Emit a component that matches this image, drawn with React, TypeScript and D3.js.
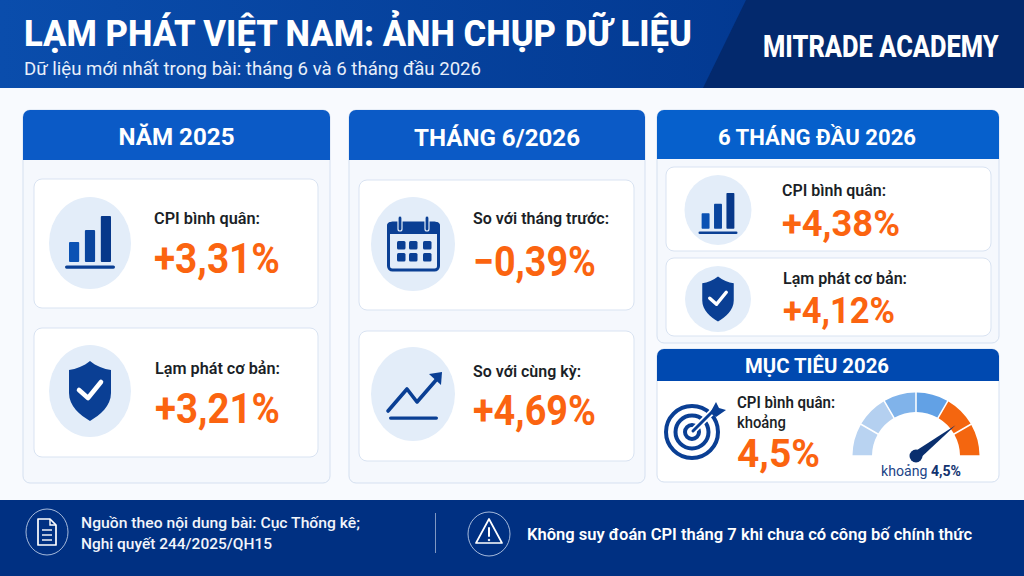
import * as d3 from "d3";

// values
const year2025Labels = ["CPI bình quân:", "Lạm phát cơ bản:"];
const year2025Values = [3.31, 3.21];
const june2026Labels = ["So với tháng trước:", "So với cùng kỳ:"];
const june2026Values = [-0.39, 4.69];
const half2026Labels = ["CPI bình quân:", "Lạm phát cơ bản:"];
const half2026Values = [4.38, 4.12];
const targetValue = 4.5;
const gaugeColors = ["#b9d3f1", "#b4d0f0", "#80b3ea", "#62a1e5", "#f4660f", "#f4660f"];
const gaugeShares = [1, 1, 1, 1, 1, 1];
const gaugePointer = 0.79; // share of the half circle, estimated from the needle
const iconBars = [1, 2, 3];
const iconBarHeights = [20, 32, 46];

const BLUE = "#0a3f94";
const DARK = "#003082";
const ORANGE = "#fb6410";
const INK = "#1b1f27";
const CIRCLE = "#e3edf9";
const FONT = "Roboto, sans-serif";

const vn = d3.formatLocale({ decimal: ",", thousands: ".", grouping: [3], currency: ["", ""], minus: "−" });
const signed = vn.format("+.2f");
const pct = (v: number) => `${signed(v)}%`;

function T({ x, y, size, w, weight = 400, fill = INK, anchor = "start", children }: any) {
  return (
    <text x={x} y={y} fontFamily={FONT} fontSize={size} fontWeight={weight} fill={fill} textAnchor={anchor}
      textLength={w} lengthAdjust={w ? "spacingAndGlyphs" : undefined}>
      {children}
    </text>
  );
}

function BarsIcon({ cx, cy, s }: any) {
  const x = d3.scaleBand<number>().domain(iconBars).range([-21, 21]).paddingInner(0.36);
  const y = d3.scaleLinear().domain([0, 46]).range([19, -27]);
  return (
    <g transform={`translate(${cx},${cy}) scale(${s})`}>
      {iconBars.map((b, i) => (
        <rect key={b} x={x(b)} width={x.bandwidth()} y={y(iconBarHeights[i])} height={y(0) - y(iconBarHeights[i])} rx={1} fill={i == 0 ? "#0b52b4" : i == 1 ? "#0a459e" : "#07388a"} />
      ))}
      <rect x={-25} y={22.5} width={50} height={3.2} rx={1.6} fill={BLUE} />
    </g>
  );
}

function ShieldIcon({ cx, cy, s }: any) {
  return (
    <g transform={`translate(${cx},${cy}) scale(${s})`}>
      <path d="M0,-30 C6,-25 14,-22 21,-21 L21,2 C21,15 10,24 0,30 C-10,24 -21,15 -21,2 L-21,-21 C-14,-22 -6,-25 0,-30Z" fill={BLUE} />
      <path d="M-11,-1 L-2,7 L11,-9" fill="none" stroke="#fff" strokeWidth={4.6} strokeLinecap="round" strokeLinejoin="round" />
    </g>
  );
}

function CalendarIcon({ cx, cy }: any) {
  const cols = [-12, 0, 14];
  const rows = [1, 13];
  return (
    <g transform={`translate(${cx},${cy})`}>
      <rect x={-24.5} y={-21} width={50} height={47} rx={4} fill={CIRCLE} stroke={BLUE} strokeWidth={3} />
      <path d="M-26,-10 V-18 a4,4 0 0 1 4,-4 H23 a4,4 0 0 1 4,4 V-10 Z" fill={BLUE} />
      {[-13, 14].map((d) => (
        <rect key={d} x={d - 2} y={-28} width={4} height={15} rx={2} fill={BLUE} stroke={CIRCLE} strokeWidth={1.2} />
      ))}
      {rows.flatMap((r) => cols.map((c) => <rect key={`${r}${c}`} x={c - 4} y={r - 4} width={8.5} height={8.5} rx={1.5} fill={BLUE} />))}
    </g>
  );
}

function TrendIcon({ cx, cy }: any) {
  return (
    <g transform={`translate(${cx},${cy})`}>
      <path d="M-25,17 L-6,-5 L4,8 L24,-15" fill="none" stroke={BLUE} strokeWidth={3.6} strokeLinecap="round" strokeLinejoin="round" />
      <path d="M16,-20 L29,-22 L28,-9 Z" fill={BLUE} />
      <rect x={-24} y={22.5} width={49} height={3.2} rx={1.6} fill={BLUE} />
    </g>
  );
}

function TargetIcon({ cx, cy }: any) {
  return (
    <g transform={`translate(${cx},${cy})`}>
      {[26, 16.5, 7].map((r) => (
        <circle key={r} r={r} fill="none" stroke={BLUE} strokeWidth={4} />
      ))}
      <path d="M1,-1 L24,-24" stroke="#fff" strokeWidth={6.5} />
      <path d="M1,-1 L24,-24" stroke={BLUE} strokeWidth={3} strokeLinecap="round" />
      <path d="M18,-19 L24,-30 L27,-24 L34,-22 L24,-15 Z" fill={BLUE} />
    </g>
  );
}

function DocIcon({ cx, cy }: any) {
  return (
    <g transform={`translate(${cx},${cy})`} fill="none" stroke="#fff">
      <ellipse rx={21} ry={23} strokeWidth={0.9} stroke="#b8c8e4" />
      <path d="M-9,-13 H3 L9,-7 V13 H-9 Z" strokeWidth={1.7} strokeLinejoin="round" />
      <path d="M3,-13 V-7 H9" strokeWidth={1.4} />
      {[-2, 3, 8].map((y) => <path key={y} d={`M-5,${y} H5`} strokeWidth={1.4} />)}
    </g>
  );
}

function WarnIcon({ cx, cy }: any) {
  return (
    <g transform={`translate(${cx},${cy})`} fill="none" stroke="#fff">
      <ellipse rx={21} ry={22} strokeWidth={0.9} stroke="#b8c8e4" />
      <path d="M0,-15 L13,9 H-13 Z" strokeWidth={1.7} strokeLinejoin="round" />
      <path d="M0,-6 V2" strokeWidth={2} strokeLinecap="round" />
      <circle cy={6} r={0.8} fill="#fff" strokeWidth={1} />
    </g>
  );
}

function Panel({ x, y, w, h, head, title, size, tw, fill, ty, bg = "#f5f8fd" }: any) {
  const r = 7;
  return (
    <g>
      <rect x={x} y={y} width={w} height={h} rx={r} fill={bg} stroke="#d5e0f0" />
      <path d={`M${x},${y + head} V${y + r} a${r},${r} 0 0 1 ${r},${-r} H${x + w - r} a${r},${r} 0 0 1 ${r},${r} V${y + head} Z`} fill={fill} />
      <T x={x + w / 2 + (w > 320 ? -11 : 0)} y={ty} size={size} w={tw} weight={700} fill="#fff" anchor="middle">{title}</T>
    </g>
  );
}

function Card({ x, y, w, h }: any) {
  return <rect x={x} y={y} width={w} height={h} rx={8} fill="#fff" stroke="#d9e3f2" />;
}

function Gauge({ cx, cy }: any) {
  const pie = d3.pie<number>().value((d) => d).sort(null).padAngle(0.02).startAngle(-Math.PI / 2).endAngle(Math.PI / 2);
  const arc = d3.arc<d3.PieArcDatum<number>>().innerRadius(44).outerRadius(63.5);
  const a = d3.scaleLinear().domain([0, 1]).range([-Math.PI / 2, Math.PI / 2])(gaugePointer);
  const len = 50;
  const tx = Math.sin(a) * len;
  const ty = -Math.cos(a) * len;
  const nx = Math.cos(a) * 4.5;
  const ny = Math.sin(a) * 4.5;
  return (
    <g transform={`translate(${cx},${cy})`}>
      {pie(gaugeShares).map((d, i) => <path key={i} d={arc(d) ?? ""} fill={gaugeColors[i]} />)}
      <path d={`M${-nx},${-ny} L${tx},${ty} L${nx},${ny} Z`} fill="#0a2f6e" />
      <circle r={6.5} fill="#0a2f6e" />
    </g>
  );
}

export default function App() {
  return (
    <svg width={1024} height={576} viewBox="0 0 1024 576" style={{ position: "absolute", left: 0, top: 0, display: "block" }}>
      <defs>
        <linearGradient id="head" x1="0" x2="1" y1="0" y2="0">
          <stop offset="0" stopColor="#0a4dac" />
          <stop offset="1" stopColor="#003288" />
        </linearGradient>
      </defs>
      <rect width={1024} height={576} fill="#f8fafe" />

      {/* header */}
      <rect width={1024} height={88} fill="url(#head)" />
      <path d="M746,0 H1024 V88 H703 Z" fill="#03296d" />
      <T x={24} y={46} size={36} w={668} weight={800} fill="#fff">LẠM PHÁT VIỆT NAM: ẢNH CHỤP DỮ LIỆU</T>
      <T x={24} y={75} size={19} w={457} fill="#e8effa">Dữ liệu mới nhất trong bài: tháng 6 và 6 tháng đầu 2026</T>
      <g transform="translate(763,57) scale(0.86,1)">
        <T x={0} y={0} size={32} w={274} weight={800} fill="#fff">MITRADE ACADEMY</T>
      </g>

      {/* năm 2025 */}
      <Panel x={23} y={110} w={307} h={373} head={50} title="NĂM 2025" size={24} tw={116} fill="#0b5ac6" ty={145} />
      <Card x={34} y={179} w={284} h={129} />
      <Card x={34} y={328} w={284} h={129} />
      <ellipse cx={90} cy={243} rx={41} ry={46} fill={CIRCLE} />
      <ellipse cx={90} cy={391} rx={41} ry={46} fill={CIRCLE} />
      <BarsIcon cx={90} cy={243} s={1} />
      <ShieldIcon cx={90} cy={391} s={1} />
      <T x={154} y={224} size={17} w={106} weight={600}>{year2025Labels[0]}</T>
      <T x={154} y={273} size={42} w={126} weight={700} fill={ORANGE}>{pct(year2025Values[0])}</T>
      <T x={155} y={374} size={17} w={125} weight={600}>{year2025Labels[1]}</T>
      <T x={155} y={423} size={42} w={125} weight={700} fill={ORANGE}>{pct(year2025Values[1])}</T>

      {/* tháng 6/2026 */}
      <Panel x={349} y={110} w={296} h={373} head={50} title="THÁNG 6/2026" size={24} tw={166} fill="#0b5ac6" ty={146} />
      <Card x={359} y={180} w={275} h={130} />
      <Card x={359} y={331} w={275} h={130} />
      <ellipse cx={413} cy={244} rx={42} ry={47} fill={CIRCLE} />
      <ellipse cx={413} cy={394} rx={42} ry={47} fill={CIRCLE} />
      <CalendarIcon cx={413} cy={244} />
      <TrendIcon cx={413} cy={394} />
      <T x={473} y={224} size={17} w={136} weight={600}>{june2026Labels[0]}</T>
      <T x={473} y={276} size={42} w={123} weight={700} fill={ORANGE}>{pct(june2026Values[0])}</T>
      <T x={473} y={377} size={17} w={108} weight={600}>{june2026Labels[1]}</T>
      <T x={473} y={425} size={42} w={123} weight={700} fill={ORANGE}>{pct(june2026Values[1])}</T>

      {/* 6 tháng đầu 2026 */}
      <Panel x={657} y={110} w={342} h={233} head={49} title="6 THÁNG ĐẦU 2026" size={22} tw={198} fill="#0660cc" ty={145} />
      <Card x={666} y={167} w={325} h={84} />
      <Card x={666} y={258} w={325} h={78} />
      <ellipse cx={718} cy={210} rx={33.5} ry={35} fill={CIRCLE} />
      <ellipse cx={718} cy={299} rx={33} ry={33} fill={CIRCLE} />
      <BarsIcon cx={718} cy={214} s={0.78} />
      <ShieldIcon cx={718} cy={299} s={0.75} />
      <T x={782} y={196} size={16} w={104} weight={600}>{half2026Labels[0]}</T>
      <T x={782} y={236} size={37} w={118} weight={700} fill={ORANGE}>{pct(half2026Values[0])}</T>
      <T x={783} y={284} size={16} w={124} weight={600}>{half2026Labels[1]}</T>
      <T x={783} y={323} size={37} w={112} weight={700} fill={ORANGE}>{pct(half2026Values[1])}</T>

      {/* mục tiêu 2026 */}
      <Panel x={657} y={349} w={342} h={133} head={32} title="MỤC TIÊU 2026" size={20} tw={144} fill="#0049b0" ty={373} bg="#fff" />
      <TargetIcon cx={692} cy={432} />
      <T x={737} y={408} size={16} w={98} weight={600}>CPI bình quân:</T>
      <T x={737} y={428} size={16} w={49} weight={500}>khoảng</T>
      <T x={737} y={467} size={38} w={83} weight={700} fill={ORANGE}>{`${vn.format(".1f")(targetValue)}%`}</T>
      <Gauge cx={916} cy={456} />
      <text x={881} y={476} fontFamily={FONT} fontSize={14} fill="#1c4587" textLength={80} lengthAdjust="spacingAndGlyphs">
        khoảng <tspan fontWeight={700} fill="#12336f">{`${vn.format(".1f")(targetValue)}%`}</tspan>
      </text>

      {/* footer */}
      <rect y={500} width={1024} height={76} fill={DARK} />
      <DocIcon cx={47} cy={532} />
      <T x={81} y={528} size={14.5} w={279} weight={500} fill="#f2f5fb">Nguồn theo nội dung bài:  Cục Thống kê;</T>
      <T x={81} y={549} size={14.5} w={191} weight={500} fill="#f2f5fb">Nghị quyết 244/2025/QH15</T>
      <path d="M435.5,513 V553" stroke="#7f97c2" strokeWidth={1} />
      <WarnIcon cx={489} cy={534} />
      <T x={527} y={540} size={17} w={445} weight={600} fill="#fff">Không suy đoán CPI tháng 7 khi chưa có công bố chính thức</T>
    </svg>
  );
}
